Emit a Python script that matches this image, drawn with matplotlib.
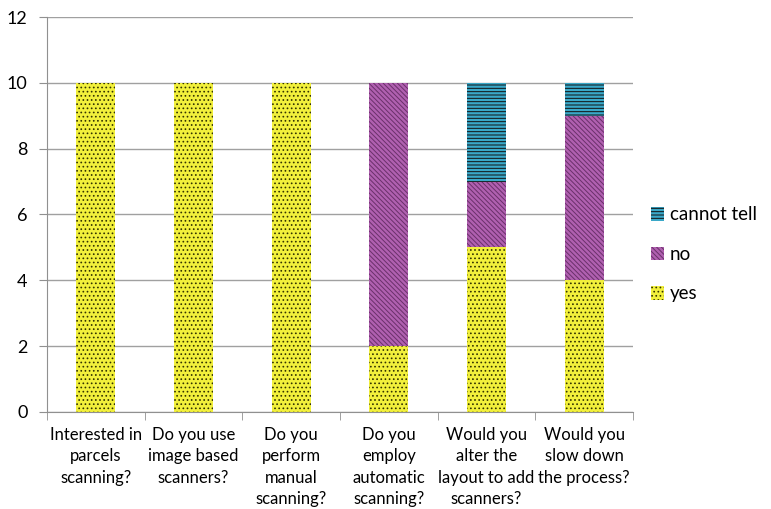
import matplotlib
matplotlib.use("Agg")
import matplotlib.pyplot as plt
import numpy as np

categories = ["Interested in\nparcels\nscanning?", "Do you use\nimage based\nscanners?",
              "Do you\nperform\nmanual\nscanning?", "Do you\nemploy\nautomatic\nscanning?",
              "Would you\nalter the\nlayout to add\nscanners?", "Would you\nslow down\nthe process?"]
yes = [10, 10, 10, 2, 5, 4]
no = [0, 0, 0, 8, 2, 5]
cannot_tell = [0, 0, 0, 0, 3, 1]

plt.rcParams['font.family'] = ['Lato', 'DejaVu Sans']
plt.rcParams['hatch.linewidth'] = 0.7

fig = plt.figure(figsize=(7.71, 5.09), dpi=100)
ax = fig.add_axes([0.061, 0.1906, 0.76, 0.776])

x = np.arange(len(categories))
w = 0.4
b1 = ax.bar(x, yes, w, color='#F2F03C', edgecolor='#333300', hatch='....', linewidth=0, label='yes', zorder=3)
b2 = ax.bar(x, no, w, bottom=yes, color='#B060B0', edgecolor='#6a306a', hatch='\\\\\\\\\\\\\\', linewidth=0, label='no', zorder=3)
bot3 = [a + b for a, b in zip(yes, no)]
b3 = ax.bar(x, cannot_tell, w, bottom=bot3, color='#3AA8C8', edgecolor='#111111', hatch='-----', linewidth=0, label='cannot tell', zorder=3)

ax.set_xlim(-0.5, len(categories) - 0.5)
ax.set_ylim(0, 12)
ax.set_yticks(range(0, 13, 2))
ax.yaxis.grid(True, color='#a0a0a0', linewidth=1)
ax.set_axisbelow(True)
for s in ['top', 'right']:
    ax.spines[s].set_visible(False)
for s in ['left', 'bottom']:
    ax.spines[s].set_color('#909090')
ax.set_xticks(x)
ax.set_xticklabels(categories, fontsize=12, va='top', linespacing=1.4)
ax.tick_params(axis='x', length=0, pad=11)
ax.set_xticks(np.arange(-0.5, len(categories)), minor=True)
ax.tick_params(axis='x', which='minor', length=6, color='#909090', direction='out')
ax.tick_params(axis='y', length=6, color='#909090', labelsize=13, pad=8)

handles = [b3, b2, b1]
leg = fig.legend(handles, ['cannot tell', 'no', 'yes'], loc='center left',
                 bbox_to_anchor=(0.83, 0.5), frameon=False, fontsize=13.5,
                 handlelength=0.7, handleheight=0.7, labelspacing=1.2, handletextpad=0.3,
                 borderaxespad=0.2)

fig.savefig('out.png', dpi=100)
